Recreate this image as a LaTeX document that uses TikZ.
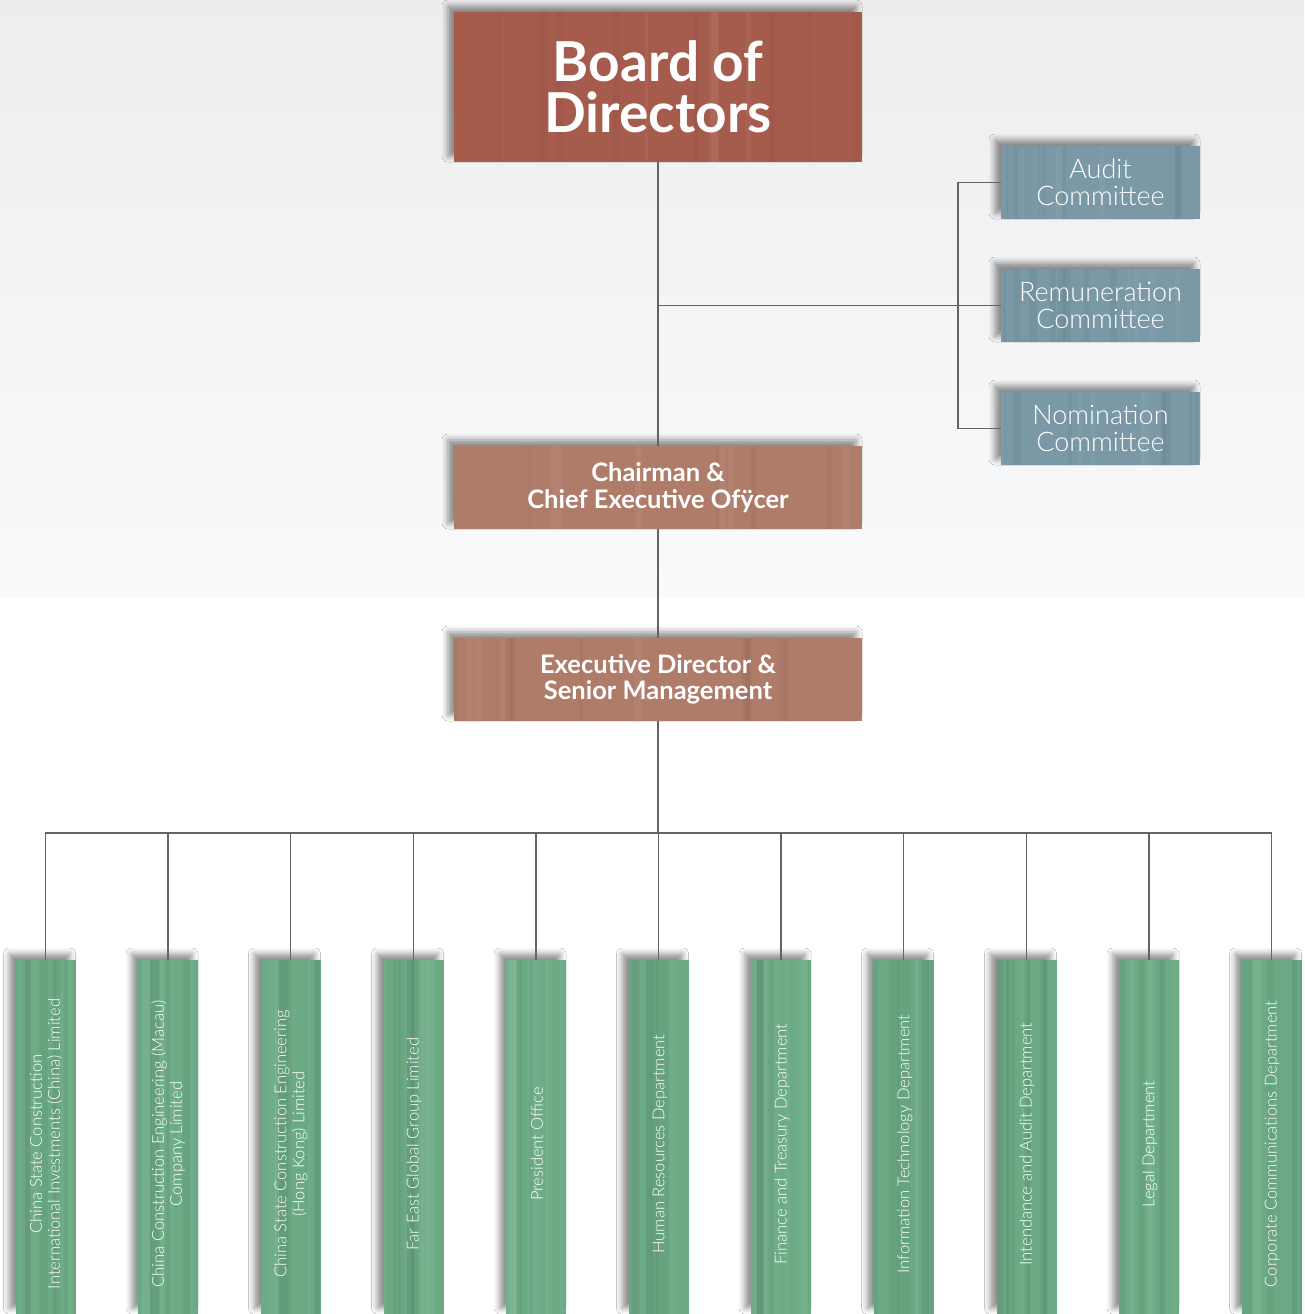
\documentclass[tikz,border=0pt]{standalone}
\usepackage{fontspec}
\setmainfont{Lato}
\newfontfamily\latolight{Lato Light}
\usetikzlibrary{shadows.blur,calc}
\definecolor{boardc}{RGB}{166,92,76}
\definecolor{chairc}{RGB}{176,124,106}
\definecolor{commc}{RGB}{122,152,166}
\definecolor{greenc}{RGB}{108,170,133}
\definecolor{linec}{RGB}{100,100,100}
\pgfmathsetseed{7}
\tikzset{
  boxshadow/.style={blur shadow={shadow xshift=-6pt,shadow yshift=6pt,shadow blur radius=6pt,shadow opacity=45}},
  woodtex/.style={path picture={
    \foreach \k in {1,...,12}{
      \pgfmathsetmacro\px{rnd}
      \pgfmathsetmacro\pw{3+6*rnd}
      \pgfmathsetmacro\pc{ifthenelse(rnd>0.5,1,0)}
      \ifdim\pc pt>0.5pt \def\wc{white}\else\def\wc{black}\fi
      \draw[\wc,opacity=0.04,line width=\pw pt]
        ($(path picture bounding box.north west)!\px!(path picture bounding box.north east)$)
        -- ($(path picture bounding box.south west)!\px!(path picture bounding box.south east)$);
    }}},
  brownbox/.style={rectangle,inner sep=0pt,minimum width=408pt,boxshadow,woodtex,text=white,align=center,font=\bfseries},
  commbox/.style={rectangle,inner sep=0pt,minimum width=199pt,minimum height=73pt,fill=commc,boxshadow,woodtex,text=white,align=center,font=\latolight\fontsize{27}{27}\selectfont},
  greenbox/.style={rectangle,inner sep=0pt,minimum width=60pt,minimum height=354pt,fill=greenc,boxshadow,woodtex},
  greentext/.style={rotate=90,text=white,align=center,font=\latolight\fontsize{16.5}{18}\selectfont,inner sep=0pt},
  conn/.style={draw=linec,line width=1.8pt}
}
\begin{document}
\begin{tikzpicture}[x=1pt,y=-1pt]
\useasboundingbox (0,0) rectangle (1304,1314);
\fill[white] (0,0) rectangle (1304,1314);
\shade[top color=black!7,bottom color={rgb,255:red,248;green,250;blue,252}] (0,0) rectangle (1304,597);
% boxes
\node[brownbox,minimum height=150pt,fill=boardc,font=\bfseries\fontsize{55}{51}\selectfont] (board) at (658,87) {Board of\\Directors};
\node[brownbox,minimum height=83pt,fill=chairc,font=\bfseries\fontsize{25.5}{27}\selectfont] (chair) at (658,487.5) {Chairman \&\\Chief Executive Ofÿcer};
\node[brownbox,minimum height=83pt,fill=chairc,font=\bfseries\fontsize{25.5}{26}\selectfont] (exec) at (658,679.5) {Executive Director \&\\Senior Management};
\node[commbox] (audit) at (1100.5,182.5) {Audit\\Committee};
\node[commbox] (remu) at (1100.5,305.5) {Remuneration\\Committee};
\node[commbox] (nomi) at (1100.5,428.5) {Nomination\\Committee};
% green boxes
\foreach \i/\x in {1/45.5,2/168,3/290.5,4/413.5,5/536,6/658.5,7/781,8/903.5,9/1026.5,10/1149,11/1271.5}{
  \node[greenbox] (g\i) at (\x,1137) {};
}
\node[greentext] at (46,1144) {China State Construction\\International Investments (China) Limited};
\node[greentext] at (168,1144) {China Construction Engineering (Macau)\\Company Limited};
\node[greentext] at (291,1144) {China State Construction Engineering\\(Hong Kong) Limited};
\node[greentext] at (414,1144) {Far East Global Group Limited};
\node[greentext] at (537,1144) {President Office};
\node[greentext] at (660,1144) {Human Resources Department};
\node[greentext] at (782,1144) {Finance and Treasury Department};
\node[greentext] at (905,1144) {Information Technology Department};
\node[greentext] at (1027,1144) {Intendance and Audit Department};
\node[greentext] at (1150,1144) {Legal Department};
\node[greentext] at (1272,1144) {Corporate Communications Department};
% connectors
\coordinate (hub) at (658,305.5);
\coordinate (cbus) at (958,305.5);
\coordinate (bus) at (658,833);
\draw[conn] (board.south) -- (chair.north);
\draw[conn] (hub) -- (remu.west);
\draw[conn] (audit.west) -| (cbus) |- (nomi.west);
\draw[conn] (chair.south) -- (exec.north);
\draw[conn] (exec.south) -- (bus);
\foreach \i in {1,...,11}{
  \draw[conn] (bus) -| (g\i.north);
}
\end{tikzpicture}
\end{document}
